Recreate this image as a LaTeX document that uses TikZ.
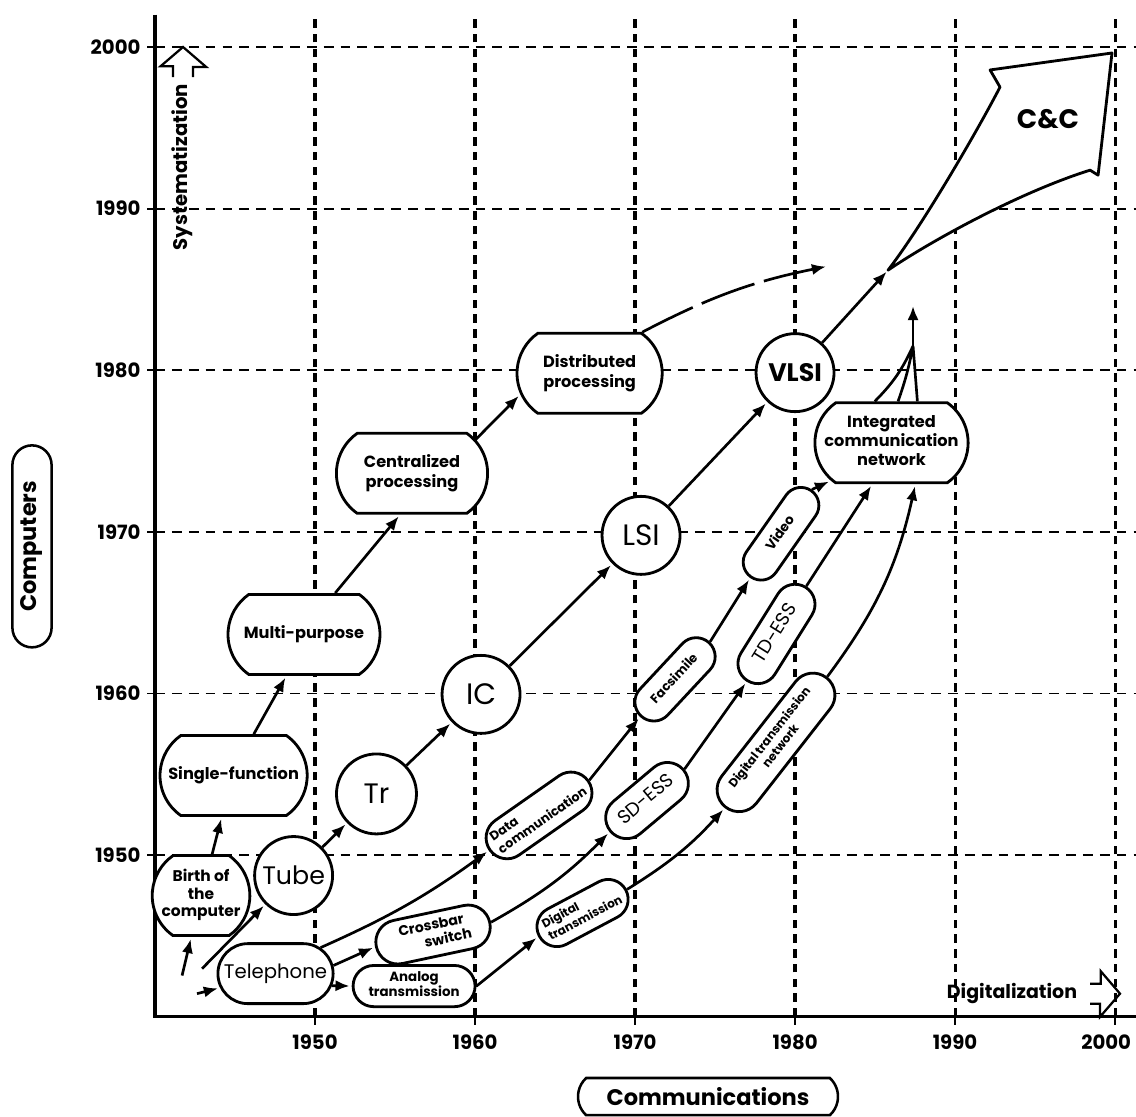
\documentclass[tikz,border=0pt]{standalone}
\usepackage{fontspec}
\setmainfont{Poppins}
\usetikzlibrary{shapes.misc,arrows.meta,calc}
\newcommand{\fsz}[2]{\fontsize{#1}{#2}\selectfont}
% text that may run into the rounded ends of its box
\newcommand{\inbox}[2][c]{\makebox[0pt]{\begin{tabular}{@{}#1@{}}#2\end{tabular}}}
\newcommand{\openarrow}[3]{%
    % #1=x, #2=y of the tip, #3=turn
    \draw[line width=1.6pt, shift={(#1,#2)}, rotate=#3]
        (-0.25cm,-0.75cm) -- (-0.25cm,-0.48cm) -- (-0.56cm,-0.48cm) -- (0,0)
        -- (0.58cm,-0.5cm) -- (0.25cm,-0.5cm) -- (0.25cm,-0.75cm);
}

\begin{document}
\begin{tikzpicture}[x=4cm, y=4.04cm,
    comp/.style={rounded rectangle, rounded rectangle arc length=110, draw, line width=2pt, fill=white, minimum height=2cm, inner sep=0pt, font=\fsz{11.5}{14.5}\bfseries},
    tech/.style={circle, draw, line width=2pt, fill=white, minimum size=1.95cm, inner sep=0pt},
    comm/.style={rounded rectangle, draw, line width=2pt, fill=white, inner sep=0pt},
    axislabel/.style={rounded rectangle, draw, line width=1.8pt, font=\fsz{16}{19}\bfseries, inner sep=0pt},
    arr/.style={line width=1.9pt, -{Latex[length=10pt,width=8pt]}, shorten >=1.5pt},
    gridv/.style={line width=2.2pt, dash pattern=on 6pt off 4.5pt},
    gridh/.style={line width=1.3pt, dash pattern=on 7pt off 5pt},
    year/.style={font=\fsz{14}{16}\bfseries}
]
    \useasboundingbox (-0.969,-0.619) rectangle (6.131,6.291);

    % grid
    \foreach \i in {1,...,6} {
        \draw[gridv] (\i,0) -- (\i,6.2);
        \draw[gridh] (0,\i) -- (6.131,\i);
    }
    % axes
    \draw[line width=2.6pt] (0,6.2) -- (0,0) -- (6.131,0);
    \foreach \i in {1,...,6} {
        \pgfmathtruncatemacro{\yr}{1940+10*\i}
        \draw[line width=1.3pt] (-0.05,\i) -- (0,\i);
        \draw[line width=1.3pt] (\i,0) -- (\i,-0.05);
        \node[year, anchor=east] (ylab\i) at (-0.06,\i) {\yr};
    }
    \foreach \i in {1,...,5} {
        \pgfmathtruncatemacro{\yr}{1940+10*\i}
        \node[year] (xlab\i) at (\i,-0.16) {\yr};
    }
    \node[year, anchor=east] (xlab6) at (6.131,-0.16) {2000};

    \node[axislabel, rotate=90, minimum width=5.05cm, minimum height=0.98cm] (computers) at (-0.769,2.91) {Computers};
    \node[axislabel, rounded rectangle arc length=95, minimum width=6.5cm, minimum height=0.93cm] (comms) at (3.456,-0.495) {Communications};

    \node[font=\fsz{14}{16}\bfseries, rotate=90] (syst) at (0.169,5.257) {Systematization};
    \openarrow{0.175}{6}{0}
    \node[font=\fsz{13.5}{16}\bfseries] (digit) at (5.356,0.142) {Digitalization};
    \openarrow{6.031}{0.142}{-90}

    % C&C
    \coordinate (cctail) at (4.581,4.619);
    \coordinate (ccend) at (4.206,4.644);
    \draw[line width=2pt, fill=white, line join=round] (cctail) .. controls (4.8,4.9) and (5.15,5.5) .. (5.281,5.752)
        -- (5.219,5.858) -- (5.981,5.963) -- (5.894,5.207) -- (5.844,5.238) .. controls (5.4,5.1) and (4.85,4.8) .. cycle;
    \node[font=\fsz{19}{22}\bfseries] (cc) at (5.581,5.554) {C\&C};

    % computers
    \node[comp, minimum width=2.2cm, font=\fsz{11}{12.5}\bfseries] (birth) at (0.2875,0.749) {\inbox{Birth of\\the\\computer}};
    \node[comp, minimum width=3.68cm] (single) at (0.491,1.492) {\inbox{Single-function}};
    \node[comp, minimum width=3.8cm] (multi) at (0.931,2.365) {\inbox{Multi-purpose}};
    \node[comp, minimum width=3.78cm] (central) at (1.606,3.362) {\inbox{Centralized\\processing}};
    \node[comp, minimum width=3.63cm] (distrib) at (2.716,3.981) {\inbox{Distributed\\processing}};
    \node[comp, minimum width=3.83cm, font=\fsz{11.5}{13.5}\bfseries] (integ) at (4.603,3.551) {\inbox{Integrated\\communication\\network}};

    % devices
    \node[tech, font=\fsz{18}{20}] (tube) at (0.866,0.873) {Tube};
    \node[tech, minimum size=2cm, font=\fsz{20}{22}] (tr) at (1.384,1.378) {Tr};
    \node[tech, font=\fsz{21}{23}] (ic) at (2.0375,1.994) {IC};
    \node[tech, font=\fsz{21}{23}] (lsi) at (3.0375,2.978) {LSI};
    \node[tech, font=\fsz{18}{20}\bfseries] (vlsi) at (4.0,3.985) {VLSI};

    % communications
    \node[comm, minimum width=2.88cm, minimum height=1.5cm, font=\fsz{14}{16}] (tel) at (0.753,0.266) {\inbox{Telephone}};
    \node[comm, minimum width=3.05cm, minimum height=1.03cm, font=\fsz{9.5}{11}\bfseries] (analog) at (1.619,0.189) {\inbox{Analog\\transmission}};
    \node[comm, rotate=12, minimum width=2.9cm, minimum height=1.1cm, font=\fsz{10}{11.5}\bfseries] (cross) at (1.7375,0.508) {\inbox{Crossbar\\\hspace*{2em}switch}};
    \node[comm, rotate=28, minimum width=2.45cm, minimum height=1.0cm, font=\fsz{8.5}{10}\bfseries] (digtrans) at (2.672,0.641) {\inbox[l]{Digital\\transmission}};
    \node[comm, rotate=35, minimum width=3.0cm, minimum height=1.05cm, font=\fsz{9}{10.5}\bfseries] (data) at (2.4,1.245) {\inbox[l]{Data\\communication}};
    \node[comm, rotate=40, minimum width=2.38cm, minimum height=1.05cm, font=\fsz{13.5}{15}] (sdess) at (3.075,1.337) {\inbox{SD-ESS}};
    \node[comm, rotate=47, minimum width=2.5cm, minimum height=0.95cm, font=\fsz{9}{10.5}\bfseries] (fax) at (3.25,2.087) {\inbox{Facsimile}};
    \node[comm, rotate=52, minimum width=4.1cm, minimum height=1.1cm, font=\fsz{8.5}{10}\bfseries] (dtn) at (3.881,1.697) {\inbox{Digital transmission\\network}};
    \node[comm, rotate=58, minimum width=2.75cm, minimum height=1.0cm, font=\fsz{13.5}{15}] (tdess) at (3.884,2.368) {\inbox{TD-ESS}};
    \node[comm, rotate=55, minimum width=2.63cm, minimum height=0.9cm, font=\fsz{9.5}{11}\bfseries] (video) at (3.9125,2.988) {\inbox{Video}};

    % starting points
    \coordinate (s1) at (0.169,0.254);
    \coordinate (s2) at (0.294,0.297);
    \coordinate (s3) at (0.2625,0.142);

    % computer line
    \draw[arr] (s1) -- (birth);
    \draw[arr] (birth.75) -- (single.254);
    \draw[arr] (single.64) -- (multi.247);
    \draw[arr] (multi.53) -- (central.254);
    \draw[arr] (central.28) -- (distrib.197);
    \draw[arr, dash pattern=on 40pt off 7pt] (distrib.38) to[bend left=8] (ccend);

    % device line
    \draw[arr] (s2) -- (tube);
    \draw[arr] (tube) -- (tr);
    \draw[arr] (tr) -- (ic);
    \draw[arr] (ic) -- (lsi);
    \draw[arr] (lsi) -- (vlsi);
    \draw[arr] (vlsi) -- (cctail);

    % communication lines
    \draw[arr] (s3) -- (tel);
    \draw[arr] (tel.-12) -- (analog.west);
    \draw[arr] (tel.8) -- (cross.west);
    \draw[arr] (tel.30) to[bend right=6] (data.west);
    \draw[arr] (analog.east) -- (digtrans.west);
    \draw[arr] (cross.east) to[bend right=8] (sdess.west);
    \draw[arr] (data.east) -- (fax.west);
    \draw[arr] (digtrans.east) to[bend right=8] (dtn.west);
    \draw[arr] (sdess.east) -- (tdess.west);
    \draw[arr] (fax.east) -- (video.west);
    \draw[arr] (video.east) -- (integ.212);
    \draw[arr] (tdess.east) -- (integ.245);
    \draw[arr] (dtn.east) to[bend right=12] (integ.300);

    % into C&C
    \coordinate (merge) at (4.7375,4.15);
    \coordinate (icntip) at (4.7375,4.41);
    \draw[line width=1.9pt] (integ.112) to[bend right=10] (merge) (integ.81) to[bend right=4] (merge) (integ.58) -- (merge);
    \draw[arr] (merge) -- (icntip);
\end{tikzpicture}
\end{document}
